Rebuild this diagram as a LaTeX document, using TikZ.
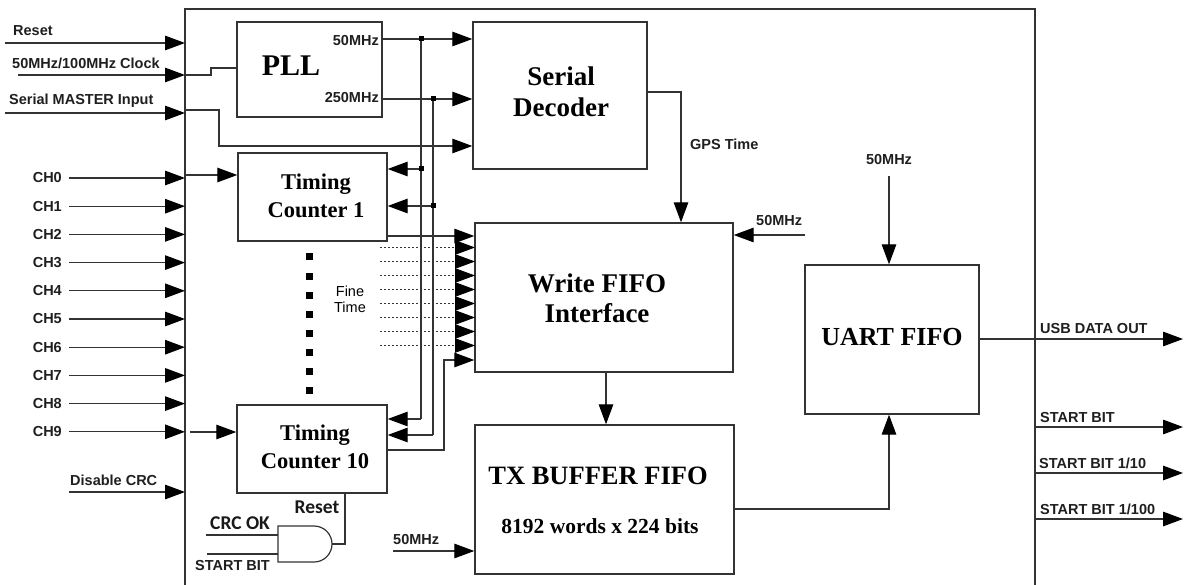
\documentclass[tikz,border=0pt]{standalone}
\usepackage{fontspec}
\setmainfont{Liberation Serif}
\setsansfont{Liberation Sans}
\newfontfamily\carl{Carlito}
\usetikzlibrary{arrows.meta}
\definecolor{lc}{HTML}{333333}
\begin{document}
\begin{tikzpicture}[x=1pt,y=-1pt,
  ln/.style={draw=lc,line width=1.3pt},
  arr/.style={ln,-{Triangle[length=20pt,width=14.5pt,color=black]}},
  box/.style={draw=lc,line width=1.4pt,inner sep=0pt},
  lab/.style={font=\sffamily\bfseries\fontsize{14.5}{16}\selectfont,inner sep=0pt,text=black!88},
  clab/.style={font=\carl\bfseries\fontsize{19.5}{21}\selectfont,inner sep=0pt,text=black!90},
  ttl/.style={font=\rmfamily\bfseries\fontsize{27}{31}\selectfont,align=center,inner sep=0pt},
  dotl/.style={draw=lc,line width=0.9pt,dash pattern=on 2.2pt off 1.8pt,-{Triangle[length=20pt,width=14.5pt,color=black]}},
  jn/.style={fill=black,minimum size=5pt,inner sep=0pt},
  sq/.style={fill=black,minimum size=7pt,inner sep=0pt}
]
\clip (0,0) rectangle (1185,585);
\fill[white] (0,0) rectangle (1185,585);
% frame
\draw[draw=lc,line width=2.6pt] (185,600) -- (185,9) -- (1035,9) -- (1035,600);

% blocks
\node[box,minimum width=145pt,minimum height=95pt] (pll) at (309.5,69.5) {};
\node[ttl,font=\rmfamily\bfseries\fontsize{30}{32}\selectfont] (pllt) at (291,66) {PLL};
\node[lab,anchor=east] (p50) at (379,41) {50MHz};
\node[lab,anchor=east] (p250) at (379,98) {250MHz};

\node[box,minimum width=174pt,minimum height=147pt] (sd) at (560,95.5) {};
\node[ttl] (sdt) at (561,92) {Serial\\Decoder};

\node[box,minimum width=258pt,minimum height=149pt] (wf) at (604,297.5) {};
\node[ttl,font=\rmfamily\bfseries\fontsize{27}{30}\selectfont] (wft) at (597,298) {Write FIFO\\Interface};

\node[box,minimum width=259pt,minimum height=149pt] (tx) at (604.5,499.5) {};
\node[ttl,font=\rmfamily\bfseries\fontsize{26.5}{30}\selectfont] (txt) at (598,476) {TX BUFFER FIFO};
\node[ttl,font=\rmfamily\bfseries\fontsize{21.5}{24}\selectfont] (txs) at (600,526) {8192 words x 224 bits};

\node[box,minimum width=174pt,minimum height=149pt] (uart) at (892,339.5) {};
\node[ttl,font=\rmfamily\bfseries\fontsize{26}{30}\selectfont] (uartt) at (892,337) {UART FIFO};

\node[box,minimum width=149pt,minimum height=88pt] (tc1) at (312.5,197) {};
\node[ttl,font=\rmfamily\bfseries\fontsize{22.5}{28.5}\selectfont] (tc1t) at (316,196) {Timing\\Counter 1};

\node[box,minimum width=150pt,minimum height=88pt] (tc10) at (312,449) {};
\node[ttl,font=\rmfamily\bfseries\fontsize{22.5}{28.5}\selectfont] (tc10t) at (315,447) {Timing\\Counter 10};

% external inputs
\node[lab,anchor=west] (lreset) at (13,31) {Reset};
\node[lab,anchor=west] (lclk) at (12,63) {50MHz/100MHz Clock};
\node[lab,anchor=west] (lser) at (9,101) {Serial MASTER Input};
\coordinate (rs) at (5,43); \coordinate (re) at (185,43);
\draw[arr] (rs) -- (re);
\coordinate (cs) at (18,75); \coordinate (ce) at (185,75);
\draw[arr] (cs) -- (ce);
\coordinate (ss) at (5,113); \coordinate (se) at (185,113);
\draw[arr] (ss) -- (se);

\foreach \i in {0,...,9} {
  \pgfmathsetmacro\yy{178+28.2*\i}
  \node[lab,anchor=east] (ch\i) at (62,\yy) {CH\i};
  \coordinate (chs\i) at (69,\yy);
  \coordinate (che\i) at (185,\yy);
  \draw[arr] (chs\i) -- (che\i);
}
\node[lab,anchor=west] (ldis) at (70,480) {Disable CRC};
\coordinate (ds) at (69,492); \coordinate (de) at (185,492);
\draw[arr] (ds) -- (de);

% clock to PLL
\draw[ln] (ce) -- (211,75) -- (211,68) -- (pll.west |- 0,68);
% serial master to decoder
\draw[arr] (185,110) -- (219,110) -- (219,146) -- (sd.west |- 0,146);
% PLL outputs
\coordinate (b50) at (421,39);
\coordinate (b250) at (433,99);
\draw[arr] (pll.east |- b50) -- (sd.west |- b50);
\draw[arr] (pll.east |- b250) -- (sd.west |- b250);
% clock buses to timing counters
\coordinate (t1a) at (421,169); \coordinate (t1b) at (433,206);
\coordinate (t10a) at (421,419); \coordinate (t10b) at (433,435);
\draw[ln] (b50) -- (t10a);
\draw[ln] (b250) -- (t10b);
\draw[arr] (t1a) -- (tc1.east |- t1a);
\draw[arr] (t1b) -- (tc1.east |- t1b);
\draw[arr] (t10a) -- (tc10.east |- t10a);
\draw[arr] (t10b) -- (tc10.east |- t10b);
\node[jn] at (b50) {};
\node[jn] at (b250) {};
\node[jn] at (t1a) {};
\node[jn] at (t1b) {};

% channel inputs to counters
\draw[arr] (185,175) -- (tc1.west |- 0,175);
\draw[arr] (190,432) -- (tc10.west |- 0,432);

% fine time
\draw[arr] (tc1.east |- 0,236) -- (wf.west |- 0,236);
\foreach \k in {0,...,7} {
  \pgfmathsetmacro\fy{247.5+14*\k}
  \coordinate (fa\k) at (380,\fy);
  \coordinate (fb\k) at (475,\fy);
  \draw[dotl] (fa\k) -- (fb\k);
}
\draw[arr] (tc10.east |- 0,450) -- (444,450) -- (444,360) -- (wf.west |- 0,360);
\node[font=\sffamily\fontsize{14.5}{16}\selectfont,align=center,inner sep=0pt] (lfine) at (350,299) {Fine\\Time};
\foreach \k in {0,...,7} {
  \node[sq] (dot\k) at (309,{257+19*\k}) {};
}

% GPS time
\draw[arr] (sd.east |- 0,92) -- (681,92) -- (wf.north -| 681,0);
\node[lab,anchor=west] (lgps) at (690,144) {GPS Time};
% 50MHz to write fifo
\node[lab,anchor=west] (lw50) at (756,221) {50MHz};
\coordinate (w50) at (805,235);
\draw[arr] (w50) -- (wf.east |- w50);
% write fifo to tx
\draw[arr] (wf.south -| 606,0) -- (tx.north -| 606,0);
% 50MHz to TX
\node[lab,anchor=west] (lt50) at (393,540) {50MHz};
\coordinate (t50) at (393,551);
\draw[arr] (t50) -- (tx.west |- t50);
% TX to UART
\draw[arr] (tx.east |- 0,509) -- (889,509) -- (uart.south -| 889,0);
% 50MHz to UART
\node[lab] (lu50) at (889,160) {50MHz};
\coordinate (u50) at (889,176);
\draw[arr] (u50) -- (uart.north -| u50);

% outputs
\coordinate (usb) at (1183,339);
\draw[arr] (uart.east |- usb) -- (usb);
\node[lab,anchor=west] (lusb) at (1040,329) {USB DATA OUT};
\coordinate (o1s) at (1035,427); \coordinate (o1e) at (1183,427);
\coordinate (o2s) at (1035,473); \coordinate (o2e) at (1183,473);
\coordinate (o3s) at (1035,519); \coordinate (o3e) at (1183,519);
\draw[arr] (o1s) -- (o1e);
\draw[arr] (o2s) -- (o2e);
\draw[arr] (o3s) -- (o3e);
\node[lab,anchor=west] (lo1) at (1040,418) {START BIT};
\node[lab,anchor=west] (lo2) at (1039,463) {START BIT 1/10};
\node[lab,anchor=west] (lo3) at (1040,509) {START BIT 1/100};

% AND gate and reset
\coordinate (andout) at (332,544);
\draw[draw=lc,line width=1.2pt] (278,526) -- (314,526) arc[start angle=-90,end angle=90,radius=18] -- (278,562) -- cycle;
\draw[ln] (tc10.south -| 345,0) -- (345,544) -- (andout);
\coordinate (a1s) at (206,535); \coordinate (a1e) at (278,535);
\coordinate (a2s) at (207,554); \coordinate (a2e) at (278,554);
\draw[ln] (a1s) -- (a1e);
\draw[ln] (a2s) -- (a2e);
\node[clab] (lrst) at (317,507) {Reset};
\node[clab,anchor=west] (lcrc) at (210,523) {CRC OK};
\node[lab,anchor=west] (lsb) at (195,566) {START BIT};
\end{tikzpicture}
\end{document}
